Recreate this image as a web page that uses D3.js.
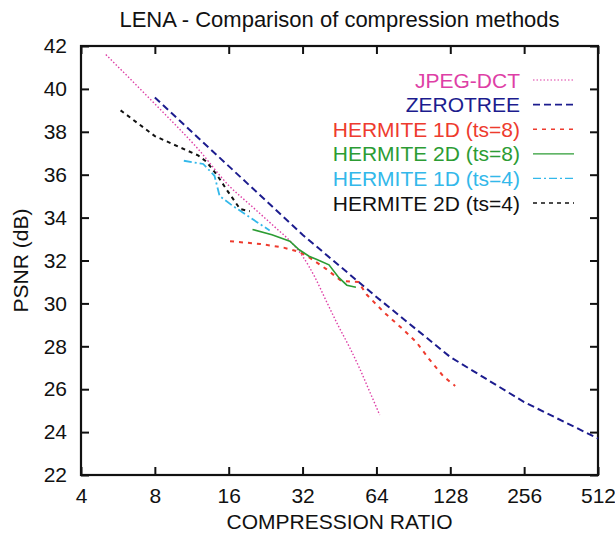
<!DOCTYPE html>
<html>
<head>
<meta charset="utf-8">
<script src="https://cdn.jsdelivr.net/npm/d3@7"></script>
<style>
  body { margin: 0; background: #fff; }
  text { font-family: "Liberation Sans", Arial, Helvetica, sans-serif; }
</style>
</head>
<body>
<script>
// compression ratio ticks (log2 axis) and PSNR ticks
const xTicks = [4, 8, 16, 32, 64, 128, 256, 512];
const yTicks = [22, 24, 26, 28, 30, 32, 34, 36, 38, 40, 42];

// [ratio, psnr]
const jpegDct = [[5.05, 41.6], [8, 39.3], [12, 37.2], [16, 35.5], [20, 34.5], [25, 33.5], [28.5, 32.9], [32, 32.2], [36, 31.2], [40, 30.1], [45, 28.9], [50, 27.9], [55, 26.9], [60, 25.9], [66, 24.8]];
const zerotree = [[8, 39.6], [16, 36.4], [32, 33.2], [64, 30.3], [128, 27.5], [256, 25.4], [512, 23.7]];
const hermite1d8 = [[16.2, 32.9], [21.5, 32.77], [26.8, 32.6], [31, 32.4], [34, 32.15], [40, 31.6], [46, 31.05], [54, 31.0], [58.5, 30.4], [68.5, 29.6], [82, 28.8], [93, 28.2], [105, 27.4], [120, 26.6], [134, 26.15]];
const hermite2d8 = [[20, 33.45], [24, 33.2], [28.4, 32.9], [31, 32.5], [34, 32.2], [36.6, 32.05], [41, 31.8], [45, 31.2], [48.5, 30.85], [52.8, 30.75]];
const hermite1d4 = [[10.5, 36.65], [12.6, 36.5], [14, 35.95], [14.7, 35.0], [16.6, 34.55], [20.8, 33.8], [23.5, 33.4]];
const hermite2d4 = [[5.8, 39.0], [8, 37.8], [12, 36.9], [13, 36.6], [14.3, 36.0], [15.7, 35.3], [17.8, 34.4], [19.5, 34.3]];

const seriesNames = ["JPEG-DCT", "ZEROTREE", "HERMITE 1D (ts=8)", "HERMITE 2D (ts=8)", "HERMITE 1D (ts=4)", "HERMITE 2D (ts=4)"];
const seriesData = [jpegDct, zerotree, hermite1d8, hermite2d8, hermite1d4, hermite2d4];
const seriesColors = ["#de3fa6", "#1c1c8e", "#ee3b2e", "#2c9c34", "#33b8ea", "#111111"];
const seriesDash = ["1.5,2", "7,4", "4,5", null, "8,3,2,3", "4,4"];
const seriesWidth = [1.4, 2, 2, 1.6, 1.8, 2];

const width = 615, height = 536;
const margin = {top: 46, right: 17, bottom: 61, left: 81};

const svg = d3.select("body").append("svg")
  .attr("width", width)
  .attr("height", height);

const x = d3.scaleLog().base(2)
  .domain([4, 512])
  .range([margin.left, width - margin.right]);

const y = d3.scaleLinear()
  .domain([22, 42])
  .range([height - margin.bottom, margin.top]);

const tickLen = 8;

// axes: ticks pointing inward, on all four sides
svg.append("g")
  .attr("transform", `translate(0,${height - margin.bottom})`)
  .call(d3.axisBottom(x).tickValues(xTicks).tickSize(-tickLen).tickPadding(12).tickFormat(d3.format("d")))
  .call(g => g.select(".domain").remove())
  .call(g => g.selectAll(".tick line").attr("stroke", "#111").attr("stroke-width", 2))
  .call(g => g.selectAll(".tick text").attr("font-size", 21).attr("fill", "#111").attr("dy", "0.75em"));

svg.append("g")
  .attr("transform", `translate(0,${margin.top})`)
  .call(d3.axisTop(x).tickValues(xTicks).tickSize(-tickLen).tickFormat(""))
  .call(g => g.select(".domain").remove())
  .call(g => g.selectAll(".tick line").attr("stroke", "#111").attr("stroke-width", 2));

svg.append("g")
  .attr("transform", `translate(${margin.left},0)`)
  .call(d3.axisLeft(y).tickValues(yTicks).tickSize(-tickLen).tickPadding(14))
  .call(g => g.select(".domain").remove())
  .call(g => g.selectAll(".tick line").attr("stroke", "#111").attr("stroke-width", 2))
  .call(g => g.selectAll(".tick text").attr("font-size", 21).attr("fill", "#111"));

svg.append("g")
  .attr("transform", `translate(${width - margin.right},0)`)
  .call(d3.axisRight(y).tickValues(yTicks).tickSize(-tickLen).tickFormat(""))
  .call(g => g.select(".domain").remove())
  .call(g => g.selectAll(".tick line").attr("stroke", "#111").attr("stroke-width", 2));

// frame
svg.append("rect")
  .attr("x", margin.left)
  .attr("y", margin.top)
  .attr("width", width - margin.left - margin.right)
  .attr("height", height - margin.top - margin.bottom)
  .attr("fill", "none")
  .attr("stroke", "#111")
  .attr("stroke-width", 2.2);

const line = d3.line()
  .x(d => x(d[0]))
  .y(d => y(d[1]));

const smoothLine = d3.line()
  .curve(d3.curveMonotoneX)
  .x(d => x(d[0]))
  .y(d => y(d[1]));

seriesData.forEach((data, i) => {
  svg.append("path")
    .datum(data)
    .attr("fill", "none")
    .attr("stroke", seriesColors[i])
    .attr("stroke-width", seriesWidth[i])
    .attr("stroke-dasharray", seriesDash[i])
    .attr("d", i === 0 ? smoothLine : line);
});

// legend
const legend = svg.append("g");
seriesNames.forEach((name, i) => {
  let ly = 80 + i * 24.6;
  legend.append("text")
    .attr("x", 520)
    .attr("y", ly)
    .attr("dy", "0.36em")
    .attr("text-anchor", "end")
    .attr("font-size", 21)
    .attr("fill", seriesColors[i])
    .text(name);
  legend.append("line")
    .attr("x1", 533).attr("x2", 574)
    .attr("y1", ly).attr("y2", ly)
    .attr("stroke", seriesColors[i])
    .attr("stroke-width", seriesWidth[i] * 0.8)
    .attr("stroke-dasharray", seriesDash[i]);
});

// titles
svg.append("text")
  .attr("x", (margin.left + width - margin.right) / 2)
  .attr("y", 27)
  .attr("text-anchor", "middle")
  .attr("font-size", 22)
  .attr("fill", "#111")
  .text("LENA - Comparison of compression methods");

svg.append("text")
  .attr("x", (margin.left + width - margin.right) / 2)
  .attr("y", 529)
  .attr("text-anchor", "middle")
  .attr("font-size", 21)
  .attr("fill", "#111")
  .text("COMPRESSION RATIO");

svg.append("text")
  .attr("transform", `translate(28,${(margin.top + height - margin.bottom) / 2}) rotate(-90)`)
  .attr("text-anchor", "middle")
  .attr("font-size", 21)
  .attr("fill", "#111")
  .text("PSNR (dB)");
</script>
</body>
</html>
